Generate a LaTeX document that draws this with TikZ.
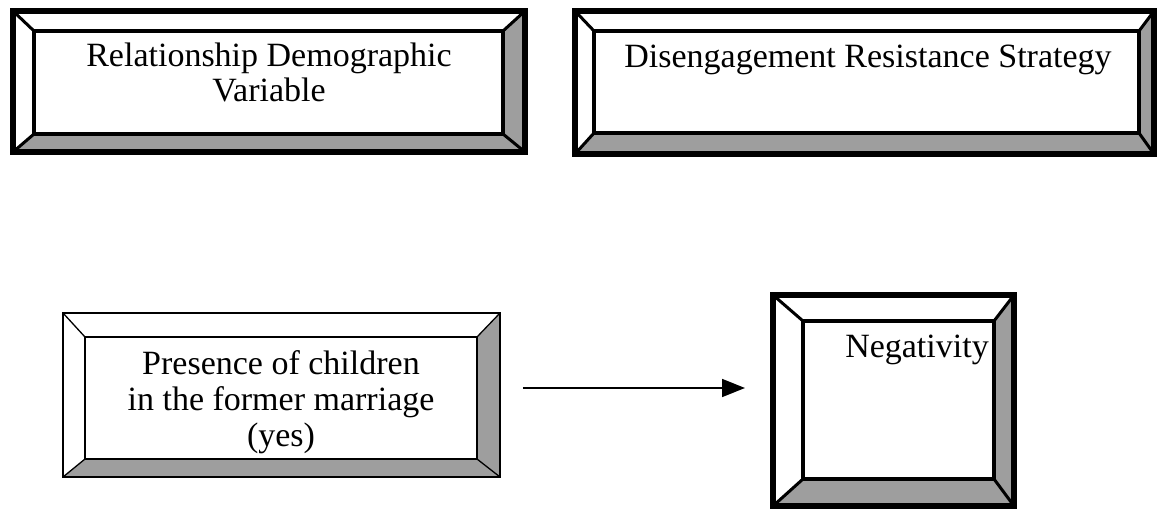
\documentclass[tikz,border=0pt]{standalone}
\usepackage{fontspec}
\setmainfont{Liberation Serif}
\usetikzlibrary{arrows.meta,fit}
\newcommand\bevelbox[9]{%
  \fill[bevshade] (#4,#3) -- (#4,#5) -- (#8,#9) -- (#8,#7) -- cycle;
  \fill[bevshade] (#2,#5) -- (#4,#5) -- (#8,#9) -- (#6,#9) -- cycle;
  \draw[diagline] (#2,#3) -- (#6,#7) (#4,#3) -- (#8,#7) (#2,#5) -- (#6,#9) (#4,#5) -- (#8,#9);
  \draw[innerline] (#6,#7) rectangle (#8,#9);
  \node[outerline, inner sep=0pt, fit={(#2,#3) (#4,#5)}] (#1) {};
}
\begin{document}
\begin{tikzpicture}[x=1pt,y=-1pt,
  bevshade/.style={fill=black!38},
  lbl/.style={font=\fontsize{34}{35.5}\selectfont, align=center, inner sep=0pt, anchor=base},
  arrowline/.style={line width=1.6pt, -{Triangle[length=23pt,width=18pt]}},
  heavy/.style={outerline/.style={draw, line width=6pt, line join=miter},
                innerline/.style={line width=4.5pt},
                diagline/.style={line width=3pt}},
  light/.style={outerline/.style={draw, line width=1.6pt},
                innerline/.style={line width=1.5pt},
                diagline/.style={line width=1.3pt}}]
\useasboundingbox (0,0) rectangle (1159,510);

\begin{scope}[heavy]
  \bevelbox{rel}{13}{11}{525}{152}{34}{31}{503}{134}
  \bevelbox{dis}{575}{11}{1154}{154}{594}{31}{1139}{133}
  \bevelbox{neg}{773}{295}{1014}{506}{803}{321}{994}{479}
\end{scope}
\begin{scope}[light]
  \bevelbox{pres}{63}{313}{500}{477}{85}{337}{477}{459}
\end{scope}

\node[lbl] (reltext) at (269,102) {Relationship Demographic\\Variable};
\node[lbl] (distext) at (868,68) {Disengagement Resistance Strategy};
\node[lbl] (prestext) at (281,446) {Presence of children\\in the former marriage\\(yes)};
\node[lbl] (negtext) at (917,358) {Negativity};

\coordinate (arrowlevel) at (0,388);
\draw[arrowline, shorten <=22pt, shorten >=25pt] (pres.east |- arrowlevel) -- (neg.west |- arrowlevel);
\end{tikzpicture}
\end{document}
